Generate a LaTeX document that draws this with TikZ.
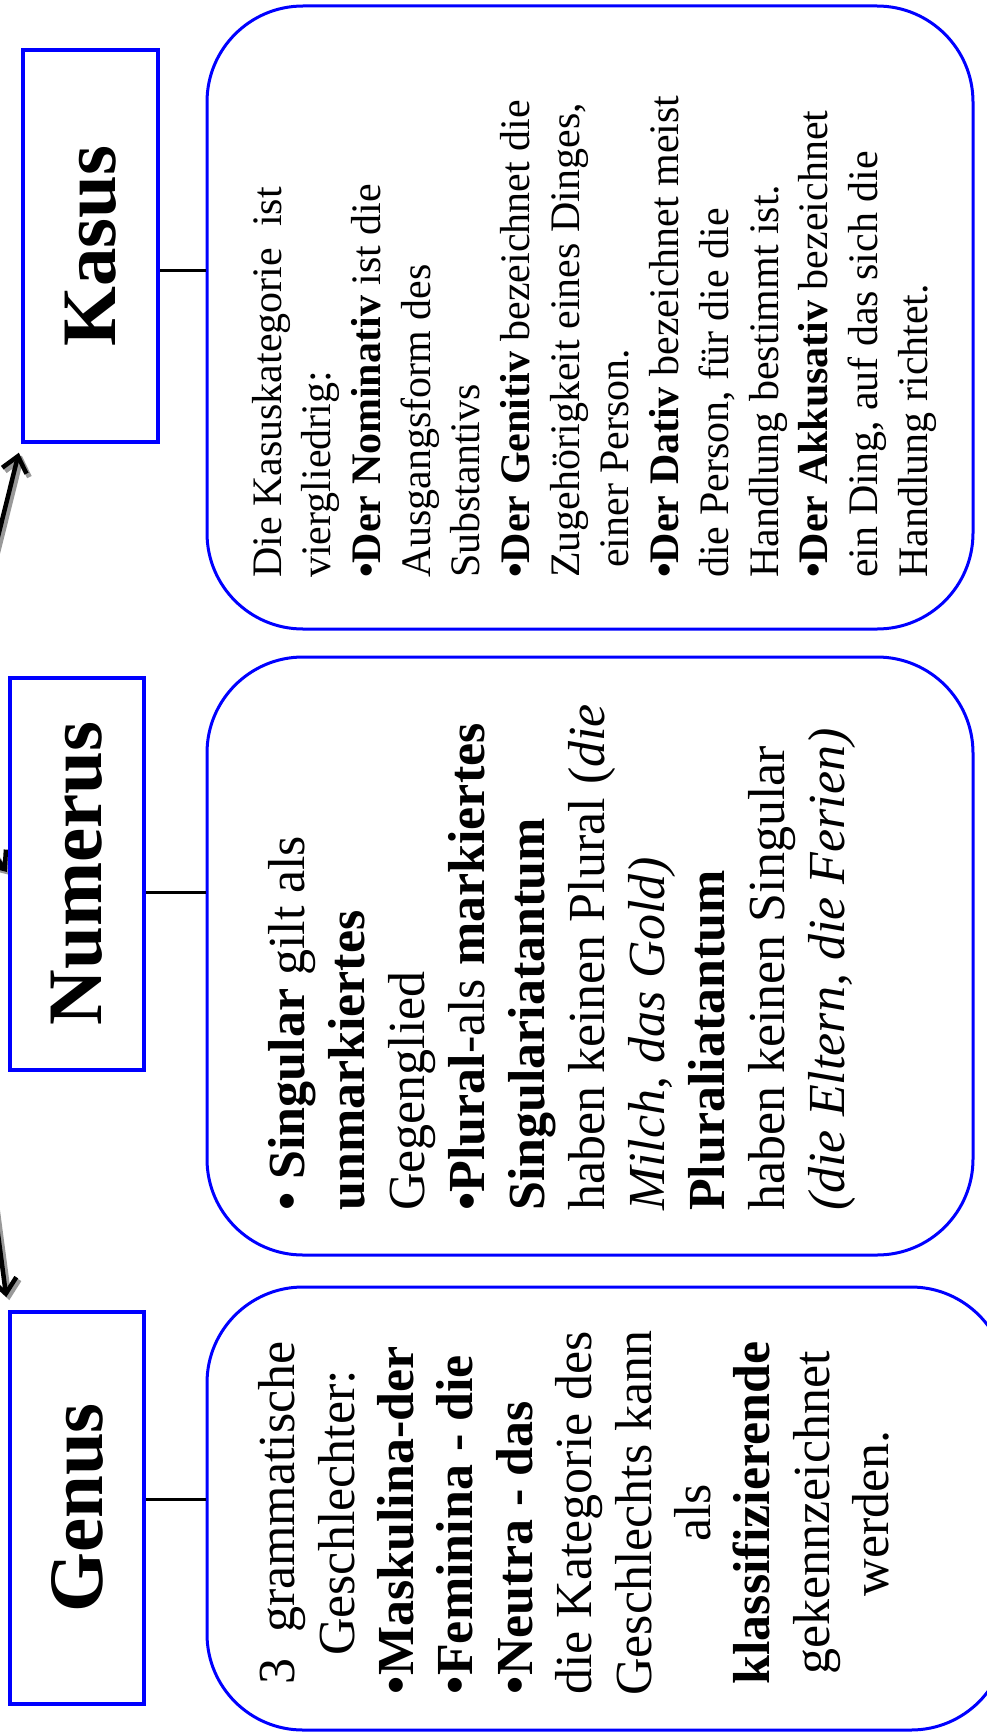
\documentclass[tikz,border=0pt]{standalone}
\usepackage{fontspec}
\setmainfont{Liberation Serif}
\usepackage{graphicx}
\usetikzlibrary{arrows.meta}
\begin{document}
\begin{tikzpicture}[x=1pt,y=-1pt,
  smallbox/.style={draw=blue, line width=4pt, fill=white, inner sep=0pt,
    minimum width=135pt, minimum height=392pt,
    font=\fontsize{77}{80}\selectfont\bfseries},
  roundbox/.style={draw=blue, line width=3pt, fill=white, rounded corners=96pt, inner sep=0pt},
  conn/.style={line width=3pt, draw=black},
  arr/.style={line width=4.5pt, draw=black, -{Straight Barb[length=15pt,width=25pt]}},
  arrsh/.style={arr, line width=5pt, draw=black!40},
  txt/.style={rotate=90, inner sep=0pt}
]
\useasboundingbox (0,0) rectangle (987,1734);
\fill[white] (0,0) rectangle (987,1734);
\begin{scope}
\clip (0,0) rectangle (987,1734);

% small boxes (placed first so the arrows can aim at them)
\node[smallbox, minimum width=135pt] (K) at (90.5,246) {\rotatebox{90}{Kasus}};
\node[smallbox, minimum width=134pt] (N) at (77,873.5) {\rotatebox{90}{Numerus}};
\node[smallbox, minimum width=134pt] (G) at (77,1508) {\rotatebox{90}{Genus}};

% arrows from the (cropped) parent, with a soft shadow
\coordinate (root) at (-62,778);
\draw[arrsh, shorten >=9pt, transform canvas={shift={(3pt,-3pt)}}] (root) -- (K.south west);
\draw[arrsh, shorten >=2pt, transform canvas={shift={(3pt,-3pt)}}] (root) -- (N.west);
\draw[arrsh, shorten >=13pt, transform canvas={shift={(3pt,-3pt)}}] (root) -- (G.north west);
\draw[arr, shorten >=9pt] (root) -- (K.south west);
\draw[arr, shorten >=2pt] (root) -- (N.west);
\draw[arr, shorten >=13pt] (root) -- (G.north west);

% redraw small boxes over arrow ends
\node[smallbox, minimum width=135pt] at (K) {\rotatebox{90}{Kasus}};
\node[smallbox, minimum width=134pt] at (N) {\rotatebox{90}{Numerus}};
\node[smallbox, minimum width=134pt] at (G) {\rotatebox{90}{Genus}};

% rounded boxes
\node[roundbox, minimum width=766pt, minimum height=623pt] (KR) at (590,317.5) {};
\node[roundbox, minimum width=766pt, minimum height=598pt] (NR) at (590,956) {};
\node[roundbox, minimum width=800pt, minimum height=443pt] (GR) at (607,1508.5) {};

% connectors
\coordinate (kc) at ([yshift=-24pt]K.east);
\coordinate (nc) at ([yshift=-18.5pt]N.east);
\coordinate (gc) at ([yshift=9pt]G.east);
\draw[conn] (kc) -- (kc -| KR.west);
\draw[conn] (nc) -- (nc -| NR.west);
\draw[conn] (gc) -- (gc -| GR.west);

% texts
\node[txt, anchor=west, align=left, font=\fontsize{42}{49.7}\selectfont] (KT) at (594,578) {%
Die Kasuskategorie\ \ ist\\
viergliedrig:\\
\textbf{•Der Nominativ} ist die\\
Ausgangsform des\\
Substantivs\\
\textbf{•Der Genitiv} bezeichnet die\\
Zugehörigkeit eines Dinges,\\
\hspace*{10pt}einer Person.\\
\textbf{•Der Dativ} bezeichnet meist\\
die Person, für die die\\
Handlung bestimmt ist.\\
\textbf{•Der Akkusativ} bezeichnet\\
ein Ding, auf das sich die\\
Handlung richtet.};

\node[txt, anchor=west, align=left, font=\fontsize{52}{60}\selectfont] (NT) at (562,1211) {%
\textbf{• Singular} gilt als\\
\textbf{unmarkiertes}\\
Gegenglied\\
\textbf{•Plural}-als \textbf{markiertes}\\
\textbf{Singulariatantum}\\
haben keinen Plural (\textit{die}\\
\textit{Milch}, \textit{das Gold)}\\
\textbf{Pluraliatantum}\\
haben keinen Singular\\
\textit{(die Eltern, die Ferien)}};

\node[txt, anchor=center, align=center, font=\fontsize{52}{59.4}\selectfont] (GT) at (574,1513) {%
3\ \ grammatische\\
Geschlechter:\\
\makebox[362pt][l]{\textbf{•Maskulina-der}}\\
\makebox[362pt][l]{\textbf{•Feminina - die}}\\
\makebox[362pt][l]{\textbf{•Neutra - das}}\\
die Kategorie des\\
Geschlechts kann\\
als\\
\textbf{klassifizierende}\\
gekennzeichnet\\
werden.};
\end{scope}
\end{tikzpicture}
\end{document}
